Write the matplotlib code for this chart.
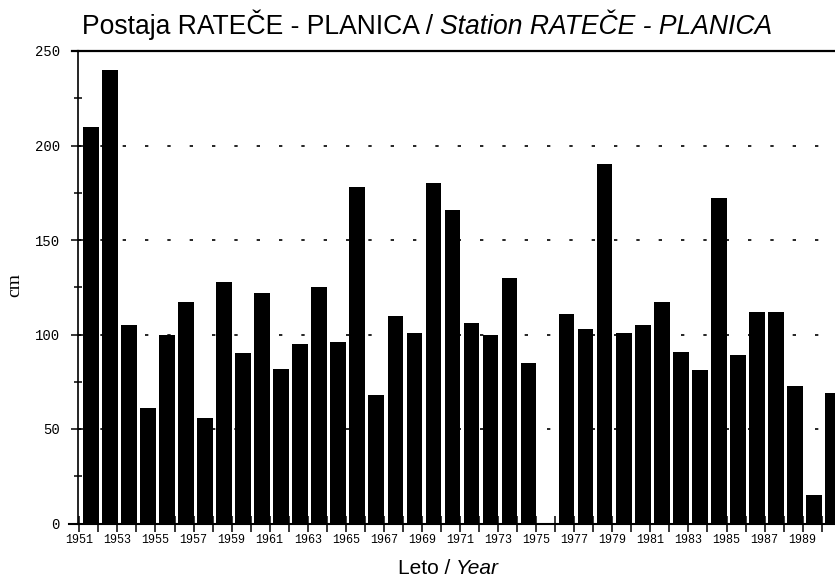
import numpy as np
import matplotlib
matplotlib.use("Agg")
import matplotlib.pyplot as plt
from matplotlib.ticker import MultipleLocator, FixedLocator

# letna vrednost (cm) za postajo Rateče - Planica
years = list(range(1951, 1991))
values = [210, 240, 105, 61, 100, 117, 56, 128, 90, 122,
          82, 95, 125, 96, 178, 68, 110, 101, 180, 166,
          106, 100, 130, 85, 0, 111, 103, 190, 101, 105,
          117, 91, 81, 172, 89, 112, 112, 73, 15, 69]
label_years = list(range(1951, 1991, 2))
y_ticks = [0, 50, 100, 150, 200, 250]

fig = plt.figure(figsize=(8.35, 5.8), dpi=100)
ax = fig.add_axes([78 / 835, 1 - 523.5 / 580, 1 - 78 / 835, (523.5 - 51) / 580])

x = np.array(years) + 0.6
ax.bar(x, values, width=0.82, color="black", zorder=2)

# pikčaste mrežne črte
for v in [50, 100, 150, 200]:
    ax.axhline(v, color="black", lw=1.2, linestyle=(0, (2.0, 11.4)), zorder=1)

ax.set_xlim(1950.93, 1990.70)
ax.set_ylim(0, 250)

ax.spines["right"].set_visible(False)
ax.spines["top"].set_linewidth(1.6)
ax.spines["left"].set_linewidth(1.2)
ax.spines["bottom"].set_linewidth(1.5)

# os x se nadaljuje levo od osi y, kot v izvirniku
ax.plot([1950.45, 1950.93], [0, 0], color="black", lw=1.5, clip_on=False)
ax.plot([1950.6, 1950.93], [250, 250], color="black", lw=1.6, clip_on=False)

ax.xaxis.set_major_locator(FixedLocator(label_years))
ax.xaxis.set_minor_locator(FixedLocator([y for y in years if y not in label_years]))
ax.set_xticklabels([str(y) for y in label_years], family="Liberation Mono", fontsize=8.5)
ax.tick_params(axis="x", which="both", direction="inout", length=12, width=1.1, pad=1.5)

ax.yaxis.set_major_locator(FixedLocator(y_ticks))
ax.yaxis.set_minor_locator(MultipleLocator(25))
ax.set_yticklabels([str(v) for v in y_ticks], family="Liberation Mono", fontsize=10)
ax.tick_params(axis="y", which="major", direction="inout", length=10, width=1.1, pad=8)
ax.tick_params(axis="y", which="minor", direction="inout", length=6, width=1.1)

fig.text(15 / 835, 1 - 285 / 580, "cm", rotation=90, family="Liberation Serif",
         fontsize=14, ha="center", va="center")

# naslov: navadni in ležeči del
t1 = fig.text(82 / 835, 1 - 34 / 580, "Postaja RATEČE - PLANICA / ",
              family="Liberation Sans", fontsize=19.1, va="baseline")
ax.annotate("Station RATEČE - PLANICA", xy=(1, 0), xycoords=t1, va="bottom",
            family="Liberation Sans", fontsize=19.1, style="italic",
            annotation_clip=False)

# oznaka osi x
xl = fig.text(398 / 835, 6 / 580, "Leto / ", family="Liberation Sans",
              fontsize=15, va="baseline")
ax.annotate("Year", xy=(1, 0), xycoords=xl, va="bottom",
            family="Liberation Sans", fontsize=15, style="italic",
            annotation_clip=False)

fig.savefig("out.png", dpi=100)
